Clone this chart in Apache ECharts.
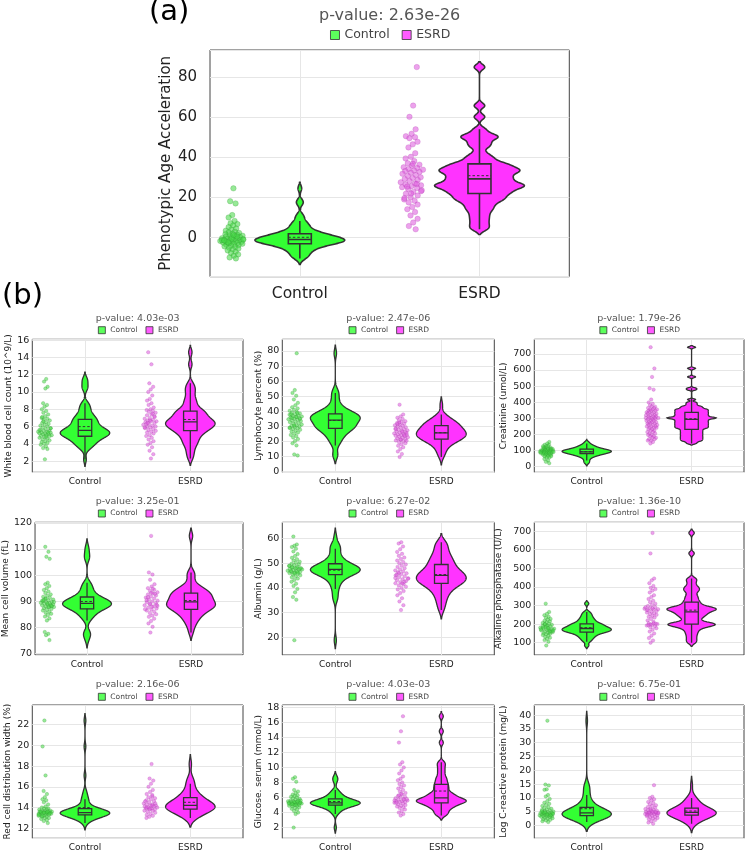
<!DOCTYPE html>
<html>
<head>
<meta charset="utf-8">
<script src="https://cdn.jsdelivr.net/npm/echarts@6.0.0/dist/echarts.min.js"></script>
<style>
html,body{margin:0;padding:0;background:#fff;}
#chart{width:748px;height:853px;}
</style>
</head>
<body>
<div id="chart"></div>
<script>
// ---------------- DATA ----------------
const groupNames = ['Control', 'ESRD'];
const pValues = ['2.63e-26','4.03e-03','2.47e-06','1.79e-26','3.25e-01','6.27e-02','1.36e-10','2.16e-06','4.03e-03','6.75e-01'];
const yTitles = ['Phenotypic Age Acceleration','White blood cell count (10^9/L)','Lymphocyte percent (%)','Creatinine (umol/L)','Mean cell volume (fL)','Albumin (g/L)','Alkaline phosphatase (U/L)','Red cell distribution width (%)','Glucose. serum (mmol/L)','Log C-reactive protein (mg/L)'];

const phenoAgeControl = [24.6,18.2,17.1,11.3,10.1,8.4,7.2,6.8,6.1,5.3,4.6,4.1,3.5,3.0,2.7,2.4,2.0,1.8,1.5,1.2,1.0,0.8,0.5,0.3,0.1,-0.2,-0.4,-0.6,-0.8,-1.0,-1.1,-1.3,-1.5,-1.6,-1.8,-2.0,-2.1,-2.3,-2.5,-2.6,-2.8,-3.0,-3.2,-3.5,-3.7,-4.0,-4.3,-4.6,-5.0,-5.4,-5.9,-6.3,-7.0,-7.6,-8.3,-9.0,-9.8,-10.3,-0.5,-1.2,0.6,-2.2,-0.9,1.4,-1.4];
const phenoAgeESRD = [85.0,65.8,60.2,54.0,51.8,50.6,50.1,49.6,47.8,46.5,45.0,42.1,40.3,39.5,38.2,37.1,36.4,35.8,35.1,34.7,34.2,33.9,33.5,33.2,32.8,32.4,31.9,31.2,30.8,30.1,29.7,29.3,28.8,28.2,27.6,27.0,26.5,26.1,25.7,25.2,24.8,24.3,23.6,22.8,21.9,21.0,20.2,19.1,18.4,17.6,16.5,15.3,14.2,12.8,11.1,9.4,7.6,5.8,4.2,22.0,19.8,26.8,25.5,23.2,36.8];

const wbcControl = [11.5,11.2,10.6,10.4,8.7,8.5,8.3,8.0,7.8,7.6,7.4,7.2,7.0,6.9,6.8,6.7,6.5,6.4,6.3,6.2,6.1,6.0,5.9,5.8,5.7,5.6,5.5,5.5,5.4,5.4,5.3,5.3,5.2,5.2,5.1,5.1,5.0,5.0,4.9,4.9,4.8,4.7,4.6,4.5,4.4,4.3,4.2,4.1,4.0,3.9,3.7,3.5,3.4,2.2,5.6,5.3,6.6,5.8,4.8,7.1];
const wbcESRD = [14.6,13.2,11.0,10.6,10.3,10.0,9.6,9.2,9.0,8.7,8.5,8.2,8.0,7.9,7.8,7.7,7.6,7.4,7.3,7.2,7.0,6.9,6.8,6.7,6.6,6.6,6.5,6.4,6.3,6.2,6.1,6.0,6.0,5.9,5.8,5.7,5.6,5.5,5.4,5.3,5.2,5.0,4.9,4.7,4.5,4.3,4.1,3.9,3.6,3.2,2.8,2.3,6.3,7.1,6.7,5.9,7.5,6.4];

const lymphControl = [78.5,54.0,52.1,50.2,47.8,45.5,43.9,42.6,41.8,40.9,40.2,39.6,39.0,38.5,38.0,37.6,37.2,36.8,36.4,36.0,35.7,35.3,35.0,34.6,34.2,33.8,33.4,33.0,32.6,32.1,31.6,31.1,30.6,30.2,29.8,29.4,29.0,28.6,28.1,27.6,27.0,26.4,25.8,25.0,24.2,23.4,22.5,21.4,20.1,18.6,17.2,11.2,10.5,36.2,37.9,34.8,30.4,28.8,38.8,35.5];
const lymphESRD = [44.3,37.8,36.5,35.6,34.8,34.0,33.3,32.7,32.1,31.6,31.1,30.6,30.2,29.8,29.3,28.9,28.5,28.0,27.6,27.2,26.8,26.4,26.0,25.6,25.2,24.8,24.5,24.2,23.9,23.6,23.3,23.0,22.6,22.2,21.8,21.4,21.0,20.5,20.0,19.4,18.7,17.9,17.0,16.0,14.8,13.2,11.5,9.5,25.4,21.1,27.9,24.0,32.4,20.3,26.2,31.4];

const creatControl = [150.3,141.4,132.6,132.6,123.8,123.8,123.8,114.9,114.9,114.9,114.9,106.1,106.1,106.1,106.1,106.1,106.1,97.2,97.2,97.2,97.2,97.2,97.2,97.2,97.2,97.2,88.4,88.4,88.4,88.4,88.4,88.4,88.4,88.4,88.4,79.6,79.6,79.6,79.6,79.6,79.6,79.6,70.7,70.7,70.7,70.7,70.7,61.9,61.9,61.9,53.0,53.0,44.2,35.4,26.5,17.7];
const creatESRD = [742.6,610.0,556.9,486.2,477.4,415.5,397.8,389.0,380.1,371.3,371.3,362.4,362.4,353.6,353.6,353.6,344.8,344.8,344.8,335.9,335.9,335.9,327.1,327.1,327.1,318.2,318.2,318.2,309.4,309.4,309.4,300.6,300.6,300.6,300.6,300.6,291.7,291.7,291.7,282.9,282.9,282.9,274.0,274.0,274.0,265.2,265.2,265.2,256.4,256.4,256.4,247.5,247.5,247.5,238.7,238.7,238.7,229.8,229.8,221.0,221.0,212.2,212.2,203.3,203.3,194.5,194.5,185.6,185.6,176.8,176.8,168.0,168.0,159.1,159.1,150.3,141.4];

const mcvControl = [110.8,108.9,107.0,106.2,97.1,96.5,95.8,95.0,94.3,93.7,93.1,92.6,92.1,91.7,91.3,90.9,90.6,90.3,90.0,89.8,89.6,89.4,89.2,89.0,88.8,88.6,88.4,88.2,88.0,87.8,87.6,87.3,87.0,86.7,86.4,86.0,85.6,85.2,84.7,84.1,83.4,82.6,78.2,77.5,77.0,75.1,89.1,90.2,88.5,91.0,89.7,87.9,90.5,88.1];
const mcvESRD = [115.0,101.0,100.2,98.2,96.5,95.6,95.0,94.4,93.9,93.4,93.0,92.6,92.2,91.8,91.4,91.0,90.6,90.2,89.9,89.6,89.2,88.8,88.4,88.0,87.6,87.2,86.8,86.4,86.0,85.5,85.0,84.5,84.0,83.3,82.4,81.5,80.2,78.0,88.2,87.9,90.4,92.8,89.0,86.9,94.8,91.5,88.6,93.2];

const albControl = [60.8,57.6,57.1,56.6,55.9,54.8,53.7,52.9,52.2,51.6,51.1,50.6,50.2,49.8,49.5,49.2,48.9,48.6,48.3,48.0,47.8,47.6,47.4,47.2,47.0,46.8,46.6,46.4,46.2,46.0,45.7,45.4,45.1,44.7,44.3,43.8,43.2,42.5,41.7,40.8,39.6,38.2,36.3,35.2,18.8,47.5,48.1,46.9,47.9,45.9,49.0,46.3,48.4];
const albESRD = [58.5,58.0,56.8,55.7,54.6,53.8,53.0,52.3,51.7,51.1,50.5,50.0,49.5,49.0,48.5,48.0,47.5,47.1,46.7,46.3,45.9,45.5,45.1,44.7,44.3,43.9,43.5,43.1,42.7,42.3,41.9,41.5,41.0,40.5,40.0,39.4,38.7,37.9,37.0,35.8,34.5,33.0,31.0,44.0,42.5,46.0,43.7,41.8,45.3];

const alpControl = [310,265,255,248,240,234,228,223,218,214,210,206,202,199,196,193,190,187,184,181,178,175,172,169,166,163,160,157,154,151,148,145,141,137,132,127,121,114,105,85,175,168,182,160,190,172,158,200,165,178];
const alpESRD = [690,580,445,435,420,405,395,388,380,370,355,345,335,325,318,310,303,297,291,286,282,278,274,270,266,262,258,254,250,245,240,235,228,220,212,205,200,196,192,188,183,178,170,160,150,138,125,112,100,280,285,276,202,198,290,204,195];

const rdwControl = [22.4,19.9,17.1,15.6,15.3,15.0,14.8,14.7,14.5,14.3,14.1,14.0,13.9,13.9,13.8,13.8,13.7,13.7,13.7,13.6,13.6,13.6,13.6,13.5,13.5,13.5,13.5,13.4,13.4,13.4,13.4,13.3,13.3,13.3,13.2,13.2,13.1,13.1,13.0,13.0,12.9,12.8,12.7,12.5,13.5,13.6,13.4,13.5,13.3,13.6,13.2];
const rdwESRD = [18.2,16.8,16.6,16.3,16.0,15.7,15.5,15.3,15.1,15.0,14.9,14.8,14.7,14.6,14.5,14.4,14.3,14.3,14.2,14.2,14.1,14.1,14.0,14.0,13.9,13.9,13.8,13.8,13.7,13.7,13.6,13.5,13.4,13.3,13.2,13.1,13.0,14.2,14.0,14.4,13.9,14.6,15.2];

const gluControl = [8.7,8.5,8.1,7.0,6.8,6.6,6.4,6.3,6.2,6.1,6.0,5.9,5.8,5.7,5.6,5.6,5.5,5.5,5.4,5.4,5.3,5.3,5.3,5.2,5.2,5.2,5.1,5.1,5.0,5.0,4.9,4.9,4.8,4.7,4.6,4.5,4.4,4.2,4.0,3.8,2.0,5.3,5.4,5.2,5.5,5.1,5.6,5.0];
const gluESRD = [16.8,14.8,13.3,10.7,10.4,10.0,9.6,9.2,8.8,8.5,8.3,8.0,7.8,7.6,7.4,7.2,7.0,6.8,6.6,6.4,6.2,6.1,6.0,5.9,5.8,5.7,5.6,5.5,5.5,5.4,5.4,5.3,5.2,5.1,5.0,4.9,4.8,4.7,4.6,4.4,4.2,4.0,3.8,3.6,5.6,5.7,6.3,5.8,6.5,5.3];

const crpControl = [38.0,14.8,14.5,13.1,12.9,11.0,10.5,9.6,8.8,8.2,7.8,7.4,7.0,6.6,6.3,6.0,5.8,5.6,5.4,5.2,5.0,4.8,4.7,4.6,4.5,4.4,4.3,4.2,4.1,4.0,3.9,3.8,3.7,3.6,3.5,3.4,3.3,3.2,3.1,3.0,2.8,2.6,2.4,2.2,2.0,1.8,1.5,1.2,4.6,4.3,3.9,5.1,3.6,4.8];
const crpESRD = [14.6,10.4,9.9,9.5,9.0,8.5,8.1,7.7,7.3,7.0,6.7,6.4,6.1,5.9,5.7,5.5,5.3,5.1,4.9,4.8,4.7,4.6,4.5,4.4,4.3,4.2,4.1,4.0,3.9,3.7,3.5,3.3,3.1,2.9,2.7,2.5,2.2,1.9,1.5,1.0,0.6,4.6,4.4,5.0,3.8,4.8,5.6];

const panelData = [
  [phenoAgeControl, phenoAgeESRD], [wbcControl, wbcESRD], [lymphControl, lymphESRD], [creatControl, creatESRD],
  [mcvControl, mcvESRD], [albControl, albESRD], [alpControl, alpESRD],
  [rdwControl, rdwESRD], [gluControl, gluESRD], [crpControl, crpESRD]
];
const yRanges = [[-19.4,93.5],[0.7,16.1],[-0.7,87.8],[-39,792],[69.4,120.2],[12.8,66.6],[34,747],[11.03,23.9],[0.58,18.3],[-4.7,43.7]];
const yTickSteps = [20,2,10,100,10,10,100,2,2,5];
// KDE bandwidth per panel / group
const bandwidths = [[1.5,1.3],[0.4,0.4],[2.7,2.6],[8,5],[1.5,1.5],[1.7,1.75],[8,10],[0.33,0.45],[0.37,0.3],[1.7,1.6]];

// ---------------- LAYOUT & STYLE ----------------
const FONT = 'DejaVu Sans';
const FILL = ['#33ff33', '#ff33ff'];
const PT_FILL = ['rgba(70,215,70,0.7)', 'rgba(222,90,222,0.7)'];
const PT_EDGE = ['rgba(40,140,40,0.55)', 'rgba(165,50,165,0.5)'];
const layouts = [
  {left:210, top:50, width:359.3, height:226.7, titleY:17.7, legendY:36, nameGap:34, big:true},
  {left:32.3, top:339.3, width:210.7, height:133, titleY:319.3, legendY:330.7, nameGap:19.5},
  {left:282.3, top:339.3, width:212, height:133, titleY:319.3, legendY:330.7, nameGap:17},
  {left:534.3, top:339.3, width:209.7, height:133, titleY:319.3, legendY:330.7, nameGap:26.5},
  {left:32.3, top:522.3, width:210.7, height:132.7, titleY:502.3, legendY:514, nameGap:22.8},
  {left:282.3, top:522.3, width:212, height:132.7, titleY:502.3, legendY:514, nameGap:18.8},
  {left:534.3, top:522.3, width:209.7, height:132.7, titleY:502.3, legendY:514, nameGap:30.8},
  {left:32.3, top:705, width:210.7, height:133.3, titleY:685.7, legendY:697.3, nameGap:20.5},
  {left:282.3, top:705, width:212, height:133.3, titleY:685.7, legendY:697.3, nameGap:18.8},
  {left:534.3, top:705, width:209.7, height:133.3, titleY:685.7, legendY:697.3, nameGap:26.5}
];

function quantile(s, p) {
  const pos = (s.length - 1) * p, lo = Math.floor(pos), hi = Math.ceil(pos);
  return s[lo] + (s[hi] - s[lo]) * (pos - lo);
}
function computeStats(vals, bw) {
  const s = vals.slice().sort((a, b) => a - b);
  const q1 = quantile(s, 0.25), med = quantile(s, 0.5), q3 = quantile(s, 0.75);
  const iqr = q3 - q1, lf = q1 - 1.5 * iqr, uf = q3 + 1.5 * iqr;
  const lw = s.find(v => v >= lf);
  const uw = s.slice().reverse().find(v => v <= uf);
  const mean = s.reduce((a, b) => a + b, 0) / s.length;
  const kde = y => { let d = 0; for (const v of s) { const z = (y - v) / bw; d += Math.exp(-0.5 * z * z); } return d; };
  const y0 = s[0] - 2 * bw, y1 = s[s.length - 1] + 2 * bw, N = 300;
  const ys = [], ds = []; let mx = 0;
  for (let k = 0; k <= N; k++) { const y = y0 + (y1 - y0) * k / N; const d = kde(y); ys.push(y); ds.push(d); if (d > mx) mx = d; }
  return { q1, med, q3, lw, uw, mean, ys, dn: ds.map(d => d / mx), dens: y => kde(y) / mx };
}
function violinRenderer(st, W, color, big) {
  return function (params, api) {
    const xc = api.value(0);
    const pts = [];
    for (let k = 0; k < st.ys.length; k++) pts.push(api.coord([xc + W * st.dn[k], st.ys[k]]));
    for (let k = st.ys.length - 1; k >= 0; k--) pts.push(api.coord([xc - W * st.dn[k], st.ys[k]]));
    const B = 0.064, lw = big ? 1.6 : 1.3;
    const a = api.coord([xc - B, st.q3]), b = api.coord([xc + B, st.q1]);
    const m1 = api.coord([xc - B, st.med]), m2 = api.coord([xc + B, st.med]);
    const e1 = api.coord([xc - B, st.mean]), e2 = api.coord([xc + B, st.mean]);
    const w1 = api.coord([xc, st.lw]), w2 = api.coord([xc, st.uw]);
    return { type: 'group', children: [
      { type: 'polygon', shape: { points: pts }, style: { fill: color, stroke: '#333', lineWidth: lw } },
      { type: 'line', shape: { x1: w1[0], y1: w1[1], x2: w2[0], y2: w2[1] }, style: { stroke: '#333', lineWidth: lw } },
      { type: 'rect', shape: { x: a[0], y: a[1], width: b[0] - a[0], height: b[1] - a[1] }, style: { fill: color, stroke: '#333', lineWidth: lw } },
      { type: 'line', shape: { x1: m1[0], y1: m1[1], x2: m2[0], y2: m2[1] }, style: { stroke: '#333', lineWidth: lw } },
      { type: 'line', shape: { x1: e1[0], y1: e1[1], x2: e2[0], y2: e2[1] }, style: { stroke: '#333', lineWidth: 1, lineDash: [2.5, 2] } }
    ] };
  };
}
const mctx = document.createElement('canvas').getContext('2d');
function textW(t, fs) { mctx.font = fs + 'px "' + FONT + '"'; return mctx.measureText(t).width; }

const cats = [' ', groupNames[0], '  ', groupNames[1], '   '];
const showCat = idx => idx === 1 || idx === 3;

const option = {
  animation: false, backgroundColor: '#fff',
  title: [], legend: [], grid: [], xAxis: [], yAxis: [], series: [],
  graphic: [
    { type: 'text', left: 149, top: -2, style: { text: '(a)', font: '29px "DejaVu Sans"', fill: '#000' } },
    { type: 'text', left: 2, top: 282, style: { text: '(b)', font: '29px "DejaVu Sans"', fill: '#000' } }
  ]
};

layouts.forEach((L, i) => {
  const big = !!L.big;
  const fsTick = big ? 15 : 9.5, fsName = big ? 15 : 9, fsTitle = big ? 16 : 9.5, fsLeg = big ? 12.5 : 7.5;
  const icon = big ? 9 : 7, gap = big ? 12 : 8;
  const cx = L.left + L.width / 2;
  const W = big ? 0.25 : 0.235;
  const PTPOS = big ? -0.375 : -0.38, JIT = 0.07;

  option.grid.push({ left: L.left, top: L.top, width: L.width, height: L.height, show: true, borderColor: '#444', borderWidth: 1, backgroundColor: '#fff' });
  option.xAxis.push({
    type: 'category', gridIndex: i, data: cats, boundaryGap: false,
    axisLine: { show: false }, axisTick: { show: false },
    axisLabel: { interval: showCat, fontSize: big ? 15.5 : 9, color: '#222', fontFamily: FONT, margin: big ? 9 : 5 },
    splitLine: { show: true, interval: showCat, lineStyle: { color: '#e6e6e6', width: 1 } }
  });
  option.xAxis.push({ type: 'value', gridIndex: i, min: -0.5, max: 1.5, show: false });
  const [ymin, ymax] = yRanges[i], step = yTickSteps[i];
  option.yAxis.push({
    type: 'value', gridIndex: i, min: ymin, max: ymax,
    splitNumber: Math.round((ymax - ymin) / step), minInterval: step, maxInterval: step,
    axisLine: { show: false }, axisTick: { show: false },
    axisLabel: { fontSize: fsTick, color: '#222', fontFamily: FONT, margin: big ? 13 : 3,
      formatter: v => { const r = v / step; return Math.abs(r - Math.round(r)) < 1e-6 ? String(Math.round(r) * step) : ''; } },
    splitLine: { show: true, lineStyle: { color: '#e6e6e6', width: 1 } },
    name: yTitles[i], nameLocation: 'middle', nameGap: L.nameGap,
    nameTextStyle: { fontSize: fsName, color: '#222', fontFamily: FONT }
  });
  option.title.push({
    text: 'p-value: ' + pValues[i], left: cx, top: L.titleY - fsTitle * 0.6, textAlign: 'center', padding: 0,
    textStyle: { fontSize: fsTitle, fontWeight: 'normal', color: '#555', fontFamily: FONT }
  });
  const legW = 2 * (icon + 5) + textW(groupNames[0], fsLeg) + gap + textW(groupNames[1], fsLeg);
  option.legend.push({
    left: cx - legW / 2, top: L.legendY - fsLeg * 0.6, padding: 0, itemGap: gap, itemWidth: icon, itemHeight: icon,
    icon: 'rect', selectedMode: false,
    textStyle: { fontSize: fsLeg, color: '#444', fontFamily: FONT },
    data: groupNames.map((n, g) => ({ name: n, itemStyle: { color: FILL[g], borderColor: '#333', borderWidth: 1 } }))
  });

  panelData[i].forEach((vals, g) => {
    const st = computeStats(vals, bandwidths[i][g]);
    option.series.push({
      type: 'custom', xAxisIndex: 2 * i + 1, yAxisIndex: i, data: [[g, st.med]], clip: true, silent: true, z: 2,
      renderItem: violinRenderer(st, W, FILL[g], big)
    });
    option.series.push({
      type: 'scatter', name: groupNames[g], xAxisIndex: 2 * i + 1, yAxisIndex: i, silent: true, z: 3,
      symbolSize: big ? 5.5 : 3.5,
      itemStyle: { color: PT_FILL[g], borderColor: PT_EDGE[g], borderWidth: 0.5 },
      data: vals.map((v, k) => {
        const u = (((k + 1) * 0.6180339887 + g * 0.37 + i * 0.11) % 1) * 2 - 1;
        return [g + PTPOS + u * JIT * (0.3 + 0.7 * st.dens(v)), v];
      })
    });
  });
});

const chart = echarts.init(document.getElementById('chart'), null, { renderer: 'canvas' });
chart.setOption(option);
</script>
</body>
</html>
